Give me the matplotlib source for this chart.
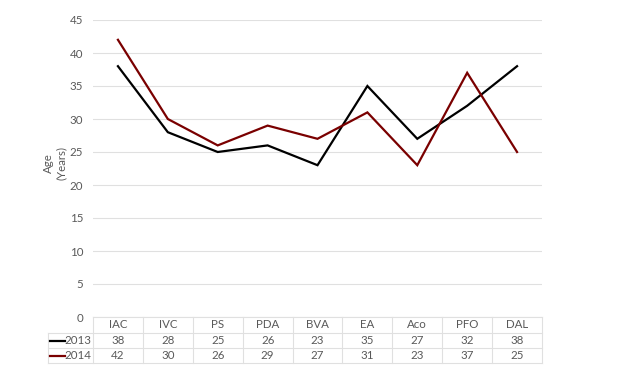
import numpy as np
import matplotlib
matplotlib.use("Agg")
import matplotlib.pyplot as plt
from matplotlib.lines import Line2D

categories = ["IAC", "IVC", "PS", "PDA", "BVA", "EA", "Aco", "PFO", "DAL"]
age_2013 = [38, 28, 25, 26, 23, 35, 27, 32, 38]
age_2014 = [42, 30, 26, 29, 27, 31, 23, 37, 25]
series_names = ["2013", "2014"]
series_colors = ["#000000", "#7a0000"]

plt.rcParams['font.family'] = ['Lato', 'DejaVu Sans']
txt_col = "#595959"
grid_col = "#e0e0e0"
fs = 8.3

W, H = 624, 381
fig = plt.figure(figsize=(W / 100, H / 100), dpi=100)
# plot area in pixels: x 93..542, y 20..317
ax = fig.add_axes([93 / W, 1 - 317 / H, 449 / W, 297 / H])

x = np.arange(len(categories))
for vals, col in zip([age_2013, age_2014], series_colors):
    ax.plot(x, vals, color=col, lw=1.6, solid_joinstyle="miter")

ax.set_xlim(-0.5, len(categories) - 0.5)
ax.set_ylim(0, 45)
ax.set_yticks(np.arange(0, 46, 5))
ax.set_xticks([])
for s in ax.spines.values():
    s.set_visible(False)
ax.tick_params(axis="y", length=0, pad=7, labelsize=fs, labelcolor=txt_col)
ax.grid(axis="y", color=grid_col, lw=0.8)
ax.set_axisbelow(True)

fig.text(55 / W, 1 - 163 / H, "Age\n(Years)", rotation=90, ha="center", va="center",
         multialignment="center", fontsize=fs, color=txt_col, linespacing=1.2)

# data table under the plot
trans = ax.get_xaxis_transform()
px = 1 / 297.0
rows_y = [0, -16 * px, -31 * px, -46 * px]
left = -0.5 - 45 / 50.0
right = len(categories) - 0.5

def seg(x0, x1, y0, y1):
    ax.add_line(Line2D([x0, x1], [y0, y1], transform=trans, color=grid_col,
                       lw=0.8, clip_on=False))

seg(-0.5, right, rows_y[0], rows_y[0])
for y in rows_y[1:]:
    seg(left, right, y, y)
for k in range(len(categories) + 1):
    seg(-0.5 + k, -0.5 + k, rows_y[0], rows_y[-1])
seg(left, left, rows_y[1], rows_y[-1])

for i, c in enumerate(categories):
    ax.text(i, (rows_y[0] + rows_y[1]) / 2, c, transform=trans, ha="center",
            va="center", fontsize=fs, color=txt_col)

for r, (vals, name, col) in enumerate(zip([age_2013, age_2014], series_names, series_colors)):
    yc = (rows_y[r + 1] + rows_y[r + 2]) / 2
    for i, v in enumerate(vals):
        ax.text(i, yc, str(v), transform=trans, ha="center", va="center",
                fontsize=fs, color=txt_col)
    ax.add_line(Line2D([left + 2 / 50, left + 17 / 50], [yc, yc], transform=trans,
                       color=col, lw=1.6, clip_on=False))
    ax.text(-0.5 - 2 / 50, yc, name, transform=trans, ha="right", va="center",
            fontsize=fs, color=txt_col)

fig.savefig("out.png", dpi=100)
